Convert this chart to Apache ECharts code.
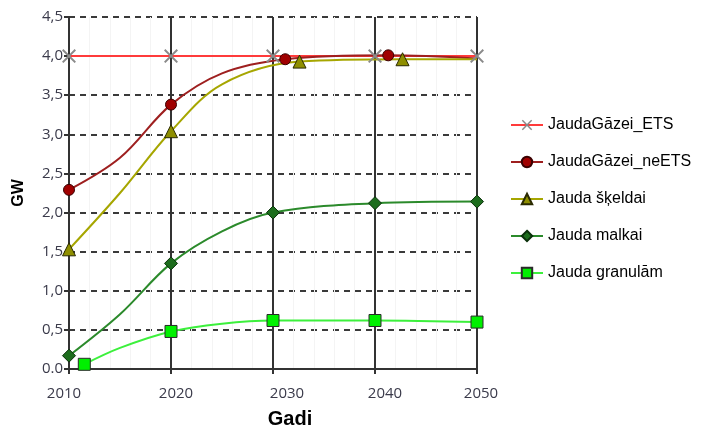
<!DOCTYPE html>
<html>
<head>
<meta charset="utf-8">
<script src="https://cdn.jsdelivr.net/npm/echarts@6/dist/echarts.min.js"></script>
<style>
html,body{margin:0;padding:0;background:#fff;}
#chart{width:727px;height:429px;}
</style>
</head>
<body>
<div id="chart"></div>
<script>
// ---- data ----
const seriesNames = ['JaudaGāzei_ETS', 'JaudaGāzei_neETS', 'Jauda šķeldai', 'Jauda malkai', 'Jauda granulām'];

const etsYears   = [2010, 2020, 2030, 2040, 2050];
const etsValues  = [4.0, 4.0, 4.0, 4.0, 4.0];
const etsMarked  = [1, 1, 1, 1, 1];

const neEtsYears  = [2010, 2015, 2020, 2025, 2031.2, 2041.3, 2050];
const neEtsValues = [2.29, 2.7, 3.38, 3.78, 3.96, 4.01, 3.97];
const neEtsMarked = [1, 0, 1, 0, 1, 1, 0];

const skeldaiYears  = [2010, 2015, 2020, 2025, 2032.6, 2042.7, 2050];
const skeldaiValues = [1.53, 2.25, 3.04, 3.64, 3.93, 3.96, 3.96];
const skeldaiMarked = [1, 0, 1, 0, 1, 1, 0];

const malkaiYears  = [2010, 2015, 2020, 2025, 2030, 2040, 2050];
const malkaiValues = [0.17, 0.7, 1.35, 1.76, 2.0, 2.12, 2.14];
const malkaiMarked = [1, 0, 1, 0, 1, 1, 1];

const granulamYears  = [2011.5, 2015, 2020, 2025, 2030, 2040, 2050];
const granulamValues = [0.06, 0.27, 0.48, 0.58, 0.62, 0.62, 0.60];
const granulamMarked = [1, 0, 1, 0, 1, 1, 1];

const xTicks = [2010, 2020, 2030, 2040, 2050];
const yTickLabels = ['0.0', '0,5', '1,0', '1,5', '2,0', '2,5', '3,0', '3,5', '4,0', '4,5'];

// ---- build ----
function pts(xs, ys, marked) {
  return xs.map((x, i) => marked[i] ? [x, ys[i]] : { value: [x, ys[i]], symbol: 'none' });
}
const crossPath = 'path://M1,0L5,4L9,0L10,1L6,5L10,9L9,10L5,6L1,10L0,9L4,5L0,1Z';

// label horizontal shifts like the reference (px)
const xLabelShift = {2010: -5, 2020: 5, 2030: 14, 2040: 10, 2050: 4};

const chart = echarts.init(document.getElementById('chart'), null, {renderer: 'canvas'});
const base = {type: 'line', smooth: 0.35, z: 3};
chart.setOption({
  backgroundColor: '#fff',
  animation: false,
  grid: {left: 69, right: 250, top: 17, bottom: 60, containLabel: false, outerBoundsMode: 'none'},
  legend: {
    orient: 'vertical', left: 505, top: 112,
    itemWidth: 32, itemHeight: 13, itemGap: 21,
    textStyle: {fontFamily: 'Liberation Sans, Arial', fontSize: 16, color: '#000'},
    data: seriesNames
  },
  xAxis: {
    type: 'value', min: 2010, max: 2050, interval: 10,
    name: 'Gadi', nameLocation: 'middle', nameGap: 40,
    nameTextStyle: {fontFamily: 'Liberation Sans, Arial', fontWeight: 'bold', fontSize: 20, color: '#000', padding: [0, 0, 0, 34]},
    axisLine: {show: true, lineStyle: {color: '#333', width: 2}},
    axisTick: {show: true, length: 5, inside: false, lineStyle: {color: '#333', width: 2}},
    axisLabel: {
      margin: 17,
      fontFamily: 'Open Sans', fontSize: 15, color: '#3a3a4a',
      formatter: function (v) {
        return '{p' + v + '|' + v + '}';
      },
      rich: Object.fromEntries(xTicks.map(v => {
        const s = xLabelShift[v] || 0;
        return ['p' + v, {fontFamily: 'Open Sans', fontSize: 15, color: '#3a3a4a',
          padding: s >= 0 ? [0, 0, 0, 2 * s] : [0, -2 * s, 0, 0]}];
      }))
    },
    splitLine: {show: true, lineStyle: {color: '#333', width: 2, type: 'solid'}},
    minorTick: {show: false, splitNumber: 5},
    minorSplitLine: {show: true, lineStyle: {color: '#f4f4f4', width: 1}}
  },
  yAxis: {
    type: 'value', min: 0, max: 4.5, interval: 0.5,
    name: 'GW', nameLocation: 'middle', nameGap: 34, nameRotate: 90,
    nameTextStyle: {fontFamily: 'Liberation Sans, Arial', fontWeight: 'bold', fontSize: 16, color: '#000', padding: [0, 0, 8, 0]},
    axisLine: {show: true, lineStyle: {color: '#333', width: 2}},
    axisTick: {show: true, length: 5, lineStyle: {color: '#333', width: 2}},
    axisLabel: {
      margin: 6, fontFamily: 'Open Sans', fontSize: 15, color: '#3a3a4a',
      formatter: function (v) { return yTickLabels[Math.round(v / 0.5)]; }
    },
    splitLine: {show: true, lineStyle: {color: '#3a3a3a', width: 2, type: [6, 5]}}
  },
  series: [
    Object.assign({}, base, {
      name: seriesNames[0], smooth: false,
      data: pts(etsYears, etsValues, etsMarked),
      symbol: crossPath, symbolSize: 14,
      lineStyle: {color: '#ff3b3b', width: 2},
      itemStyle: {color: '#8a8a8a'}
    }),
    Object.assign({}, base, {
      name: seriesNames[1],
      data: pts(neEtsYears, neEtsValues, neEtsMarked),
      symbol: 'circle', symbolSize: 11,
      lineStyle: {color: '#9e1f1f', width: 2},
      itemStyle: {color: '#a00000', borderColor: '#3a0000', borderWidth: 1}
    }),
    Object.assign({}, base, {
      name: seriesNames[2],
      data: pts(skeldaiYears, skeldaiValues, skeldaiMarked),
      symbol: 'triangle', symbolSize: 13,
      lineStyle: {color: '#a6a600', width: 2},
      itemStyle: {color: '#8f8f00', borderColor: '#2a2a00', borderWidth: 1}
    }),
    Object.assign({}, base, {
      name: seriesNames[3],
      data: pts(malkaiYears, malkaiValues, malkaiMarked),
      symbol: 'diamond', symbolSize: 13,
      lineStyle: {color: '#2b8a2b', width: 2},
      itemStyle: {color: '#1d6d1d', borderColor: '#0a300a', borderWidth: 1}
    }),
    Object.assign({}, base, {
      name: seriesNames[4],
      data: pts(granulamYears, granulamValues, granulamMarked),
      symbol: 'rect', symbolSize: 12,
      lineStyle: {color: '#3cf03c', width: 2},
      itemStyle: {color: '#00f000', borderColor: '#2a2a2a', borderWidth: 1}
    })
  ]
});
</script>
</body>
</html>
